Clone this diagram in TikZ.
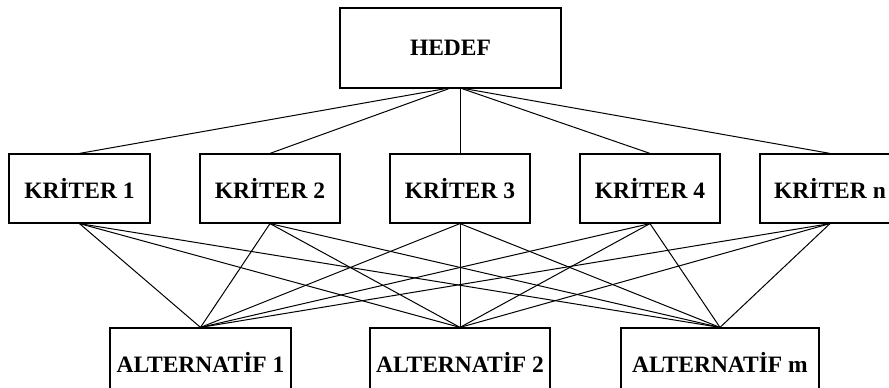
\documentclass[tikz,border=0pt]{standalone}
\usepackage{fontspec}
\setmainfont{Liberation Serif}
\usetikzlibrary{positioning}

\begin{document}
\begin{tikzpicture}[x=1pt, y=-1pt]
        \tikzset{block/.style={rectangle, draw, line width=1.2pt, align=center, minimum width=140pt, minimum height=69pt, inner sep=0pt, font=\fontsize{23.5}{28}\selectfont\bfseries}}
        \tikzset{link/.style={line width=1pt}}
        \useasboundingbox (0,0) rectangle (889,388);
        \node[block, minimum width=221pt, minimum height=80pt, line width=1.6pt] (goal) at (450.5,48) {HEDEF};
        \node[block, minimum width=141pt] (c1) at (79.5,188.5) {KR\.ITER 1};
        \node[block] (c2) at (270,188.5) {KR\.ITER 2};
        \node[block] (c3) at (460,188.5) {KR\.ITER 3};
        \node[block] (c4) at (650,188.5) {KR\.ITER 4};
        \node[block] (c5) at (830,188.5) {KR\.ITER n};
        \node[block, minimum width=181pt, minimum height=68pt] (a1) at (200.5,362) {ALTERNAT\.IF 1};
        \node[block, minimum width=180pt, minimum height=68pt] (a2) at (460,362) {ALTERNAT\.IF 2};
        \node[block, minimum width=198pt, minimum height=68pt] (a3) at (720,362) {ALTERNAT\.IF m};
        % lines from the goal fan out from just around its bottom centre
        \foreach \c/\dx in {c1/-6,c2/-2,c3/9.5,c4/12,c5/15}
            \draw[link] ([xshift=\dx pt]goal.south) -- (\c.north);
        \foreach \c in {c1,c2,c3,c4,c5}
            \foreach \a in {a1,a2,a3}
                \draw[link] (\c.south) -- (\a.north);
    \end{tikzpicture}
\end{document}
